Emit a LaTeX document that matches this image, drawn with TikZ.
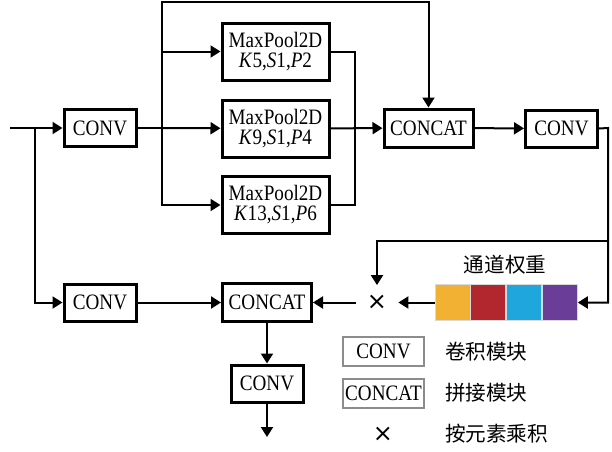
\documentclass[tikz,border=0pt]{standalone}
\usepackage{fontspec}
\setmainfont{Liberation Serif}[FakeStretch=0.87]
\newfontfamily\cjk{Noto Sans CJK SC}
\newfontfamily\symfont{DejaVu Sans}
\usepackage{tikz}
\usetikzlibrary{arrows.meta, positioning}
\definecolor{wOrange}{RGB}{242,177,51}
\definecolor{wRed}{RGB}{178,38,46}
\definecolor{wBlue}{RGB}{31,166,220}
\definecolor{wPurple}{RGB}{106,61,152}

\begin{document}
\begin{tikzpicture}[
  x=0.5pt, y=-0.5pt,
  every node/.style={font=\fontsize{11}{10}\selectfont},
  block/.style={rectangle, draw=black, line width=1.5pt, fill=white,
                minimum width=36pt, minimum height=18.5pt, inner sep=1pt,
                align=center},
  catbox/.style={block, minimum width=44.5pt, minimum height=19pt},
  poolbox/.style={block, minimum width=53.5pt, minimum height=28.5pt},
  legbox/.style={rectangle, draw=black!45, line width=0.75pt,
                 minimum width=40.5pt, minimum height=14.5pt, inner sep=1pt},
  wcell/.style={rectangle, draw=white!85!black, line width=0.4pt,
                minimum width=17.5pt, minimum height=18pt, inner sep=0pt},
  mult/.style={inner sep=0pt, minimum width=21pt, minimum height=17pt,
               font=\symfont\fontsize{12}{12}\selectfont},
  cjklabel/.style={font=\cjk\fontsize{10.3}{12}\selectfont},
  flow/.style={-{Triangle[length=5pt, width=6pt]}, line width=1pt},
  link/.style={line width=1pt},
]
\useasboundingbox (0,0) rectangle (612,451);

% Main blocks
\node[block]   (conv1) at (100,128)   {CONV};
\node[poolbox] (mp1)   at (275.5,51.5) {MaxPool2D\\\textit{K}5,\textit{S}1,\textit{P}2};
\node[poolbox] (mp2)   at (275.5,128.5) {MaxPool2D\\\textit{K}9,\textit{S}1,\textit{P}4};
\node[poolbox] (mp3)   at (275.5,205) {MaxPool2D\\\textit{K}13,\textit{S}1,\textit{P}6};
\node[catbox]  (cat1)  at (428.5,128) {CONCAT};
\node[block]   (conv2) at (561.5,128.5) {CONV};
\node[block]   (conv3) at (100,302.5) {CONV};
\node[catbox]  (cat2)  at (267,302.5) {CONCAT};
\node[block]   (conv4) at (267,383.5) {CONV};

% Channel weights
\node[mult] (mul) at (377,302.5) {×};
\node[wcell, fill=wOrange] (w1) at (452.5,302.5) {};
\node[wcell, fill=wRed, right=0pt of w1]    (w2) {};
\node[wcell, fill=wBlue, right=0pt of w2]   (w3) {};
\node[wcell, fill=wPurple, right=0pt of w3] (w4) {};
\node[cjklabel] (wlab) at (505,265) {通道权重};

% Legend
\node[legbox] (lconv) at (383.5,351.5) {CONV};
\node[legbox] (lcat)  at (383.5,393.5) {CONCAT};
\node[mult]   (lmul)  at (383,434) {×};
\node[cjklabel, anchor=west] (tconv) at (438,352) {卷积模块};
\node[cjklabel, anchor=west] (tcat)  at (438,393) {拼接模块};
\node[cjklabel, anchor=west] (tmul)  at (438,434) {按元素乘积};

% Junctions
\coordinate (in)  at (10,128);
\coordinate (sp)  at (35,128);
\coordinate (b1)  at (162,128);
\coordinate (t1)  at (162,2);
\coordinate (m1)  at (355,128);
\coordinate (r1)  at (608,128);
\coordinate (r2)  at (608,241);
\coordinate (out) at (267,437);

% Flows
\draw[flow] (in) -- (conv1);
\draw[flow] (sp) |- (conv3);
\draw[link] (conv1) -- (b1);
\draw[flow] (b1) |- (mp1);
\draw[flow] (b1) -- (mp2);
\draw[flow] (b1) |- (mp3);
\draw[flow] (b1) -- (t1) -| (cat1);
\draw[link] (mp1) -| (m1);
\draw[link] (mp3) -| (m1);
\draw[flow] (mp2) -- (cat1);
\draw[flow] (cat1) -- (conv2);
\draw[flow] (conv2.east) -- (r1) |- (w4.east);
\draw[flow] (r2) -| (mul);
\draw[flow] (w1) -- (mul);
\draw[flow] (mul) -- (cat2);
\draw[flow] (conv3) -- (cat2);
\draw[flow] (cat2) -- (conv4);
\draw[flow] (conv4) -- (out);

\end{tikzpicture}
\end{document}
